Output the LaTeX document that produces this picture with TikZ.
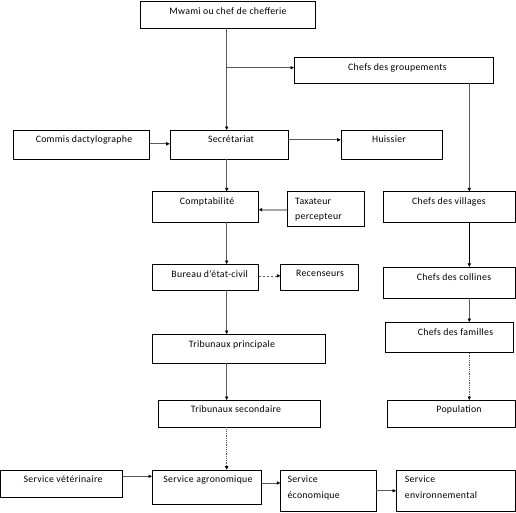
\documentclass[tikz,border=0pt]{standalone}
\usepackage{fontspec}
\setmainfont{Carlito}[LetterSpace=3]
\usetikzlibrary{arrows.meta,fit}
\begin{document}
\begin{tikzpicture}[x=1pt,y=-1pt,
  box/.style={draw=black,line width=0.8pt,inner sep=0pt,outer sep=0pt},
  txt/.style={inner sep=0pt,font=\fontsize{9.8}{11}\selectfont,anchor=mid},
  ltxt/.style={txt,anchor=mid west},
  conn/.style={draw=black!65,line width=0.8pt,-{Latex[length=3.8pt,width=3.8pt,black]}},
  dotline/.style={conn,dash pattern=on 1pt off 0.8pt},
  dashline/.style={conn,dash pattern=on 2.5pt off 1.5pt},
  grayconn/.style={draw=black!35,line width=1.6pt,-{Latex[length=3.5pt,width=4pt,black]}},
  boldconn/.style={draw=black,line width=1.3pt,-{Latex[length=4pt,width=4pt,black]}}]
\useasboundingbox (0,0) rectangle (516,512);
% boxes
\node[box,fit={(140.7,1.7) (315.3,28)}] (mwami) {};
\node[box,fit={(294.3,57.3) (493.3,83.3)}] (grp) {};
\node[box,fit={(13.3,130.3) (149.7,159.3)}] (commis) {};
\node[box,fit={(170,130.3) (288.7,159.3)}] (sec) {};
\node[box,fit={(341,130.3) (442,159.3)}] (huis) {};
\node[box,fit={(152.3,191.7) (258.7,222.3)}] (compta) {};
\node[box,fit={(287.3,191.7) (364.3,226.3)}] (tax) {};
\node[box,fit={(383.3,191.7) (515.3,222.3)}] (vil) {};
\node[box,fit={(152.3,264.3) (258.7,290.3)}] (bur) {};
\node[box,fit={(280.7,264.3) (358.7,290.3)}] (rec) {};
\node[box,fit={(383.3,267.3) (515.3,298.3)}] (col) {};
\node[box,fit={(385.7,322.3) (513.3,352.7)}] (fam) {};
\node[box,fit={(152.3,334.3) (325.3,363.3)}] (tp) {};
\node[box,fit={(158.3,400.3) (320.3,427.3)}] (ts) {};
\node[box,fit={(387.3,400.3) (515.3,427.3)}] (pop) {};
\node[box,fit={(0.5,470.3) (122.7,497.3)}] (vet) {};
\node[box,fit={(152.3,470) (261.7,504)}] (agro) {};
\node[box,fit={(280.7,470.3) (376,511.3)}] (eco) {};
\node[box,fit={(396.3,470.3) (515.3,511.3)}] (env) {};
% texts
\node[txt] (mwami-t) at (228,12) {Mwami ou chef de chefferie};
\node[txt] (grp-t) at (397.5,67.7) {Chefs des groupements};
\node[txt] (commis-t) at (84,140.3) {Commis dactylographe};
\node[txt] (sec-t) at (231,140.3) {Secrétariat};
\node[txt] (huis-t) at (389,140.3) {Huissier};
\node[txt] (compta-t) at (207,202.3) {Comptabilité};
\node[ltxt] (tax-t1) at (295,202.3) {Taxateur};
\node[ltxt] (tax-t2) at (295,217.3) {percepteur};
\node[txt] (vil-t) at (449,202.3) {Chefs des villages};
\node[txt] (bur-t) at (209.7,275) {Bureau d’état-civil};
\node[txt] (rec-t) at (320,274.3) {Recenseurs};
\node[txt] (col-t) at (454,277.7) {Chefs des collines};
\node[txt] (fam-t) at (455.5,332.7) {Chefs des familles};
\node[txt] (tp-t) at (232,344.7) {Tribunaux principale};
\node[txt] (ts-t) at (236,410) {Tribunaux secondaire};
\node[txt] (pop-t) at (459,410) {Population};
\node[txt] (vet-t) at (63,480) {Service vétérinaire};
\node[txt] (agro-t) at (208,480) {Service agronomique};
\node[ltxt] (eco-t1) at (287.3,480) {Service};
\node[ltxt] (eco-t2) at (287.3,495.7) {économique};
\node[ltxt] (env-t1) at (404.7,480) {Service};
\node[ltxt] (env-t2) at (404.7,495.7) {environnemental};
% spines
\coordinate (spine) at (226.7,0);
\coordinate (rspine) at (469.3,0);
\coordinate (j) at (226.7,67.7);
% connectors
\draw[conn] (mwami.south -| spine) -- (sec.north -| spine);
\draw[conn] (j) -- (j -| grp.west);
\draw[conn] ([yshift=1pt]commis.east) -- ([yshift=1pt]commis.east -| sec.west);
\draw[conn] ([yshift=5pt]sec.east) -- ([yshift=5pt]sec.east -| huis.west);
\draw[conn] (sec.south -| spine) -- (compta.north -| spine);
\draw[grayconn] ([yshift=-0.7pt]tax.west) -- ([yshift=-0.7pt]tax.west -| compta.east);
\draw[conn] (compta.south -| spine) -- (bur.north -| spine);
\draw[dashline] ([yshift=1.4pt]bur.east) -- ([yshift=1.4pt]bur.east -| rec.west);
\draw[conn] (bur.south -| spine) -- (tp.north -| spine);
\draw[conn] (tp.south -| spine) -- (ts.north -| spine);
\draw[dotline] (ts.south -| spine) -- (agro.north -| spine);
\draw[conn] ([yshift=7.5pt]vet.east) -- ([yshift=7.5pt]vet.east -| agro.west);
\draw[conn] ([yshift=4pt]agro.east) -- ([yshift=4pt]agro.east -| eco.west);
\draw[conn] (eco.east) -- (eco.east -| env.west);
\draw[conn] (grp.south -| rspine) -- (vil.north -| rspine);
\draw[boldconn] (vil.south -| rspine) -- (col.north -| rspine);
\draw[conn] (col.south -| rspine) -- (fam.north -| rspine);
\draw[dotline] (fam.south -| rspine) -- (pop.north -| rspine);
\end{tikzpicture}
\end{document}
